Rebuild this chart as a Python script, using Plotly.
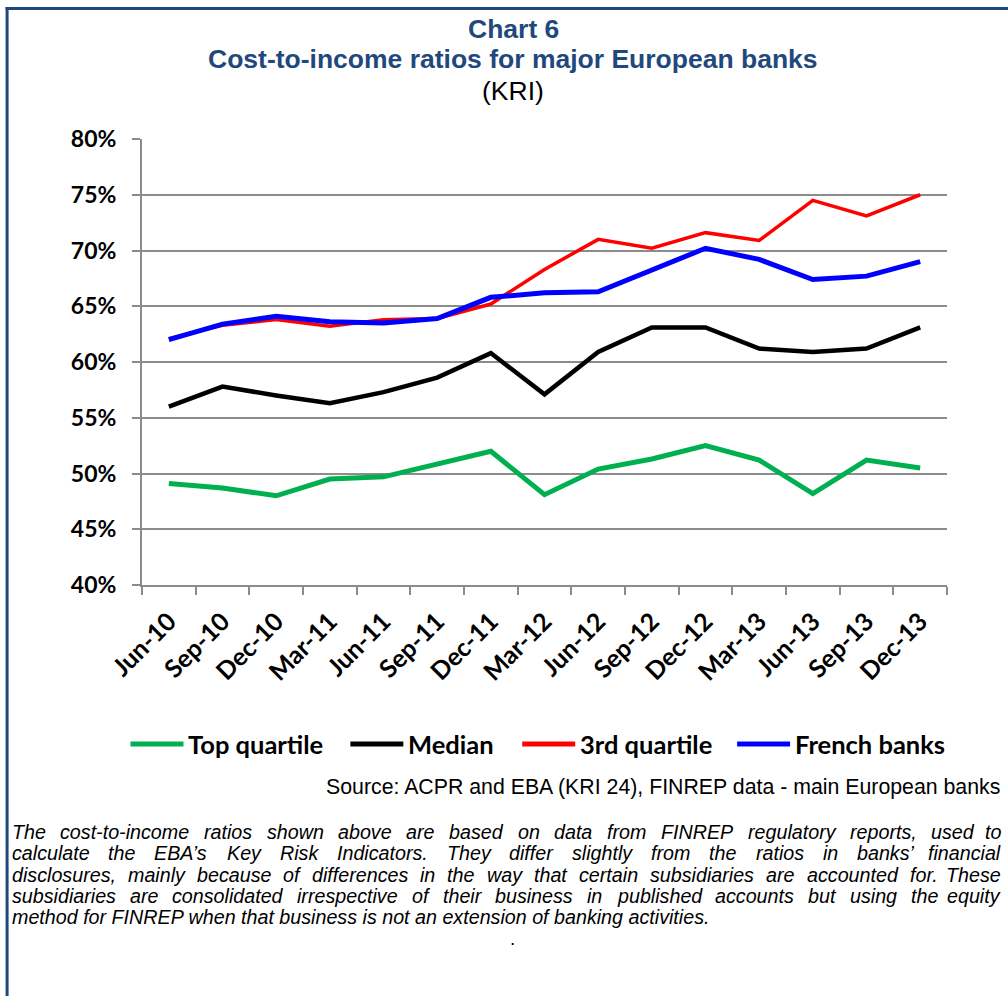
import plotly.graph_objects as go

# Quarter-end reporting dates
quarters = ["Jun-10", "Sep-10", "Dec-10", "Mar-11", "Jun-11", "Sep-11", "Dec-11",
            "Mar-12", "Jun-12", "Sep-12", "Dec-12", "Mar-13", "Jun-13", "Sep-13", "Dec-13"]

# Cost-to-income ratios (%)
top_quartile = [49.1, 48.7, 48.0, 49.5, 49.7, 50.9, 52.0, 48.1, 50.4, 51.3, 52.5, 51.2, 48.2, 51.2, 50.5]
median = [56.0, 57.8, 57.0, 56.3, 57.3, 58.6, 60.8, 57.1, 60.9, 63.1, 63.1, 61.2, 60.9, 61.2, 63.1]
third_quartile = [62.1, 63.3, 63.8, 63.2, 63.8, 63.9, 65.2, 68.3, 71.0, 70.2, 71.6, 70.9, 74.5, 73.1, 75.0]
french_banks = [62.0, 63.4, 64.1, 63.6, 63.5, 63.9, 65.8, 66.2, 66.3, 68.3, 70.2, 69.2, 67.4, 67.7, 69.0]

y_ticks = [40, 45, 50, 55, 60, 65, 70, 75, 80]
y_tick_labels = [f"{v}%" for v in y_ticks]

series = [
    ("Top quartile", top_quartile, "#00b050", 5),
    ("Median", median, "#000000", 4.5),
    ("3rd quartile", third_quartile, "#ff0000", 3.5),
    ("French banks", french_banks, "#0000ff", 5),
]

W, H = 1008, 996
L, R, T, B = 141.5, 947, 139, 585  # plot area in pixels


def xp(px):
    return (px - L) / (R - L)


def yp(py):
    return (B - py) / (B - T)


CALIBRI = "Lato, Carlito, Calibri, sans-serif"
ARIAL = "Liberation Sans, Arial, sans-serif"
NAVY = "#1f497d"
GRID = "#8c8c8c"

fig = go.Figure()
for name, vals, color, width in series:
    fig.add_trace(go.Scatter(
        x=quarters, y=vals, name=name, mode="lines", showlegend=False,
        line=dict(color=color, width=width),
    ))

fig.update_layout(
    width=W, height=H,
    margin=dict(l=L, r=W - R, t=T, b=H - B, pad=0),
    paper_bgcolor="white", plot_bgcolor="white",
    xaxis=dict(
        type="category", range=[-0.5, len(quarters) - 0.5],
        tickson="boundaries", ticks="outside", ticklen=8, tickwidth=2, tickcolor=GRID,
        showline=True, linecolor=GRID, linewidth=2, showgrid=False,
        tickangle=-45, ticklabelstandoff=10,
        tickfont=dict(family=CALIBRI, size=25, color="black", weight="bold"),
    ),
    yaxis=dict(
        range=[40, 80], tickvals=y_ticks, ticktext=y_tick_labels,
        ticks="outside", ticklen=8, tickwidth=2, tickcolor=GRID,
        showline=True, linecolor=GRID, linewidth=2,
        showgrid=True, gridcolor=GRID, gridwidth=2, zeroline=False,
        tickfont=dict(family=CALIBRI, size=23, color="black", weight="bold"),
        ticklabelstandoff=11,
    ),
)

# Legend row: sample line followed by the series name
legend_x = [130, 350, 522, 737]
for (name, _, color, _), x0 in zip(series, legend_x):
    fig.add_shape(type="line", xref="paper", yref="paper", x0=xp(x0), x1=xp(x0 + 53),
                  y0=yp(744), y1=yp(744), line=dict(color=color, width=5))
    fig.add_annotation(text=f"<b>{name}</b>", x=xp(x0 + 56), y=yp(744), xref="paper", yref="paper",
                       showarrow=False, xanchor="left", yanchor="middle",
                       font=dict(family=CALIBRI, size=25.5, color="black"))

# Title block
title_rows = [("<b>Chart 6</b>", 29, NAVY),
              ("<b>Cost-to-income ratios for major European banks</b>", 59, NAVY),
              ("(KRI)", 91, "black")]
for text, py, color in title_rows:
    fig.add_annotation(text=text, x=xp(513), y=yp(py), xref="paper", yref="paper",
                       showarrow=False, xanchor="center", yanchor="middle",
                       font=dict(family=ARIAL, size=26.5, color=color))

# Source line
fig.add_annotation(text="Source: ACPR and EBA (KRI 24), FINREP data - main European banks",
                   x=xp(1002), y=yp(787), xref="paper", yref="paper", showarrow=False,
                   xanchor="right", yanchor="middle",
                   font=dict(family=ARIAL, size=21.3, color="black"))

# Explanatory note, justified word by word between the left and right margins
note_lines = [
    "The cost-to-income ratios shown above are based on data from FINREP regulatory reports, used to",
    "calculate the EBA\u2019s Key Risk Indicators. They differ slightly from the ratios in banks\u2019 financial",
    "disclosures, mainly because of differences in the way that certain subsidiaries are accounted for. These",
    "subsidiaries are consolidated irrespective of their business in published accounts but using the equity",
    "method for FINREP when that business is not an extension of banking activities.",
]

# Advance widths (1/1000 em) of the Arial / Liberation Sans glyphs used in the note
_w = {" ": 278, ",": 278, ".": 278, "-": 333, "\u2019": 222, "'": 191, "(": 333, ")": 333}
_w.update({c: v for c, v in zip("ABCDEFGHIJKLMNOPQRSTUVWXYZ",
                                [667, 667, 722, 722, 667, 611, 778, 722, 278, 500, 667, 556, 833,
                                 722, 778, 667, 778, 722, 667, 611, 722, 667, 944, 667, 667, 611])})
_w.update({c: v for c, v in zip("abcdefghijklmnopqrstuvwxyz",
                                [556, 556, 500, 556, 556, 278, 556, 556, 222, 222, 500, 222, 833,
                                 556, 556, 556, 556, 333, 500, 278, 556, 500, 722, 500, 500, 500])})


def text_width(s, size):
    return sum(_w.get(c, 556) for c in s) * size / 1000


NOTE_SIZE = 19.7
NOTE_LEFT, NOTE_RIGHT = 9, 1003
for i, line in enumerate(note_lines):
    py = 832 + i * 21.3
    words = line.split(" ")
    if i == len(note_lines) - 1:
        fig.add_annotation(text=f"<i>{line}</i>", x=xp(NOTE_LEFT), y=yp(py), xref="paper", yref="paper",
                           showarrow=False, xanchor="left", yanchor="middle",
                           font=dict(family=ARIAL, size=NOTE_SIZE, color="black"))
        continue
    widths = [text_width(wd, NOTE_SIZE) for wd in words]
    gap = (NOTE_RIGHT - NOTE_LEFT - sum(widths)) / (len(words) - 1)
    x = NOTE_LEFT
    for j, (wd, ww) in enumerate(zip(words, widths)):
        last = j == len(words) - 1
        fig.add_annotation(text=f"<i>{wd}</i>", x=xp(NOTE_RIGHT if last else x), y=yp(py),
                           xref="paper", yref="paper", showarrow=False,
                           xanchor="right" if last else "left", yanchor="middle",
                           font=dict(family=ARIAL, size=NOTE_SIZE, color="black"))
        x += ww + gap

fig.add_annotation(text=".", x=xp(512), y=yp(938), xref="paper", yref="paper", showarrow=False,
                   xanchor="center", yanchor="middle", font=dict(family=ARIAL, size=19, color="black"))

# Frame: top and left rules
fig.add_shape(type="line", xref="paper", yref="paper", x0=xp(5), x1=xp(W), y0=yp(8.5), y1=yp(8.5),
              line=dict(color=NAVY, width=3))
fig.add_shape(type="line", xref="paper", yref="paper", x0=xp(6.5), x1=xp(6.5), y0=yp(7), y1=yp(H),
              line=dict(color=NAVY, width=3))

fig.write_html("out.html")
